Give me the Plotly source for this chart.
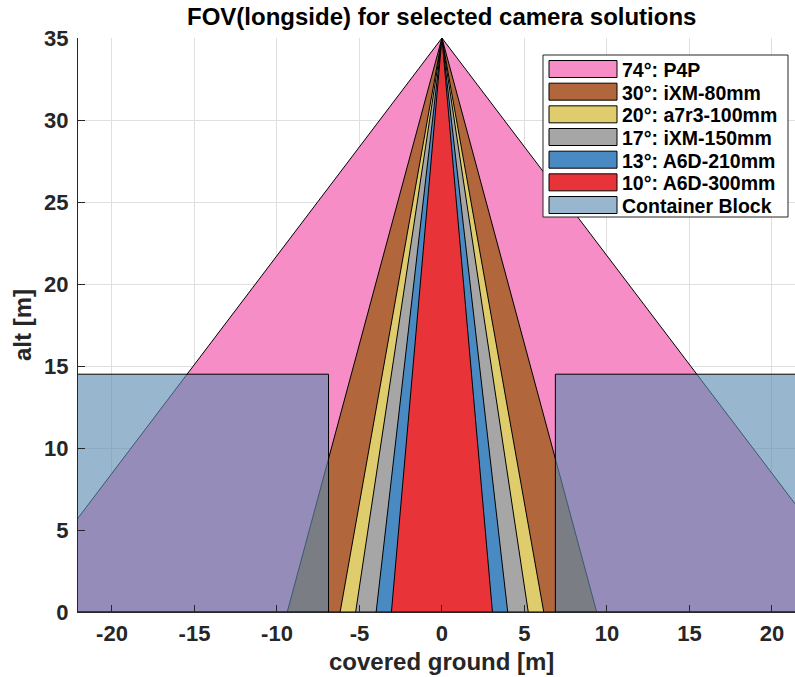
import numpy as np
import plotly.graph_objects as go

# Camera field-of-view (long side) in degrees and camera names
fov_deg = [74, 30, 20, 17, 13, 10]
camera_names = ["P4P", "iXM-80mm", "a7r3-100mm", "iXM-150mm", "A6D-210mm", "A6D-300mm"]
fov_colors = ["#F78DC7", "#B1663B", "#DFCC6C", "#A6A6A6", "#4A8AC3", "#E83339"]

# Flight altitude and container block geometry [m]
altitude = 35.0
container_height = 14.5
container_gap_half = 6.875
container_far = 40.0
container_fill = "rgba(92,140,178,0.63)"
container_label = "Container Block"

# Axis settings
x_range = [-22.06, 21.4]
y_range = [0, 35]
x_ticks = [-20, -15, -10, -5, 0, 5, 10, 15, 20]
y_ticks = [0, 5, 10, 15, 20, 25, 30, 35]

W, H = 795, 677
ML, MR, MT, MB = 78, 0, 38, 65
PW, PH = W - ML - MR, H - MT - MB

FONT = "Liberation Sans, Arial, Helvetica, sans-serif"
AXC = "#262626"


def xp(px):
    return (px - ML) / PW


def yp(py):
    return (H - MB - py) / PH


fig = go.Figure()

# FOV triangles: apex at the camera, base on the ground
for fov, name, col in zip(fov_deg, camera_names, fov_colors):
    half = altitude * np.tan(np.radians(fov / 2.0))
    fig.add_trace(go.Scatter(
        x=[0, -half, half, 0], y=[altitude, 0, 0, altitude],
        mode="lines", fill="toself", fillcolor=col,
        line=dict(color="black", width=1),
        name=f"{fov}°: {name}", showlegend=False, hoverinfo="skip",
    ))

# Container blocks on both sides (semi-transparent)
for side in (-1, 1):
    x0, x1 = side * container_gap_half, side * container_far
    fig.add_trace(go.Scatter(
        x=[x0, x1, x1, x0, x0], y=[0, 0, container_height, container_height, 0],
        mode="lines", fill="toself", fillcolor=container_fill,
        line=dict(color="black", width=1),
        name=container_label, showlegend=False, hoverinfo="skip",
    ))

# Legend box drawn in paper coordinates
legend_labels = [f"{f}°: {n}" for f, n in zip(fov_deg, camera_names)] + [container_label]
legend_fills = fov_colors + [container_fill]
shapes = [dict(type="rect", xref="paper", yref="paper",
               x0=xp(543), x1=xp(788), y0=yp(217), y1=yp(55),
               fillcolor="white", line=dict(color=AXC, width=1), layer="above")]
annotations = []
row0, pitch, sw_h = 69.0, 22.67, 17.0
for i, (lab, fc) in enumerate(zip(legend_labels, legend_fills)):
    cy = row0 + i * pitch
    shapes.append(dict(type="rect", xref="paper", yref="paper",
                       x0=xp(549), x1=xp(617), y0=yp(cy + sw_h / 2), y1=yp(cy - sw_h / 2),
                       fillcolor=fc, line=dict(color="black", width=1), layer="above"))
    annotations.append(dict(xref="paper", yref="paper", x=xp(620), y=yp(cy + 1),
                            text=lab, showarrow=False, xanchor="left", yanchor="middle",
                            font=dict(family=FONT, size=19.5, color="black", weight="bold")))

# Title and axis labels
annotations.append(dict(xref="x", yref="paper", x=0, y=yp(17),
                        text="<b>FOV(longside) for selected camera solutions</b>",
                        showarrow=False, xanchor="center", yanchor="middle",
                        font=dict(family=FONT, size=24, color="black")))
annotations.append(dict(xref="x", yref="paper", x=0, y=yp(661),
                        text="<b>covered ground [m]</b>",
                        showarrow=False, xanchor="center", yanchor="middle",
                        font=dict(family=FONT, size=24, color=AXC)))
annotations.append(dict(xref="paper", yref="paper", x=xp(22), y=0.5,
                        text="<b>alt [m]</b>", textangle=-90,
                        showarrow=False, xanchor="center", yanchor="middle",
                        font=dict(family=FONT, size=24, color=AXC)))

axis_common = dict(
    showgrid=True, gridcolor="#DFDFDF", gridwidth=1,
    showline=True, linecolor=AXC, linewidth=1,
    ticks="inside", ticklen=7, tickcolor=AXC, tickwidth=1,
    tickfont=dict(family=FONT, size=22, color=AXC, weight="bold"),
    zeroline=False, mirror=False,
)

fig.update_layout(
    width=W, height=H,
    margin=dict(l=ML, r=MR, t=MT, b=MB, pad=0),
    paper_bgcolor="white", plot_bgcolor="white",
    showlegend=False,
    xaxis=dict(range=x_range, tickvals=x_ticks, ticktext=[str(v) for v in x_ticks],
               ticklabelstandoff=2, **axis_common),
    yaxis=dict(range=y_range, tickvals=y_ticks, ticktext=[str(v) for v in y_ticks],
               ticklabelstandoff=4, **axis_common),
    shapes=shapes, annotations=annotations,
)

fig.write_html("out.html")
